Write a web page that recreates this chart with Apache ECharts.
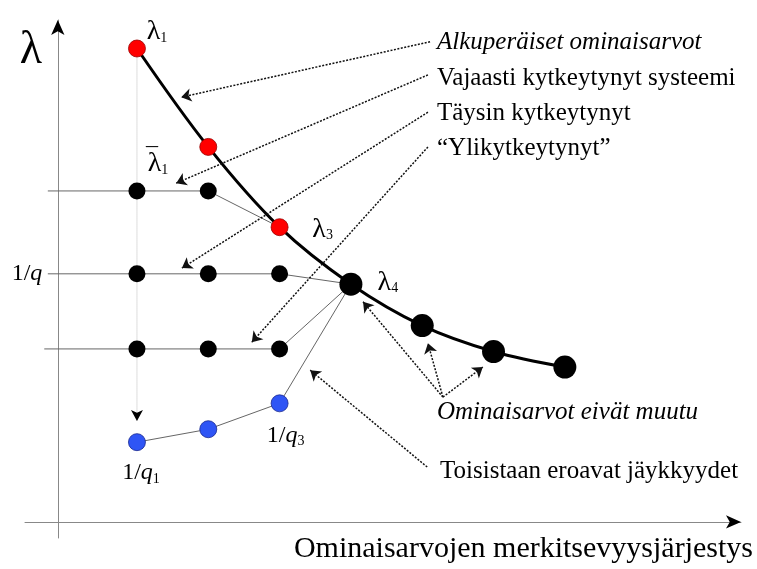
<!DOCTYPE html>
<html>
<head>
<meta charset="utf-8">
<script src="https://cdn.jsdelivr.net/npm/echarts@6/dist/echarts.min.js"></script>
<style>
  html, body { margin: 0; padding: 0; background: #fff; }
  #chart { width: 757px; height: 569px; }
</style>
</head>
<body>
<div id="chart"></div>
<script>
// eigenvalue order on x, level on y (arbitrary units 0..100)
var ranks = [1, 2, 3, 4, 5, 6, 7];
var original = [94.5, 75.5, 60, 49, 41, 36, 33]; // alkuperäiset ominaisarvot
var weakLevel = 67;    // vajaasti kytkeytynyt
var fullLevel = 51;    // täysin kytkeytynyt, 1/q
var overLevel = 36.5;  // ylikytkeytynyt
var stiffness = [18.5, 21, 26]; // 1/q1 .. 1/q3
var rowStarts = [-0.25, -0.25, -0.3];
var dropEnd = 22.6;
var xRange = [-0.57, 9.47];
var yRange = [0, 100];
var axisCross = [-0.11, 3.1]; // where the drawn axes sit

var captions = [
  'Alkuperäiset ominaisarvot',
  'Vajaasti kytkeytynyt systeemi',
  'Täysin kytkeytynyt',
  '\u201cYlikytkeytynyt\u201d',
  'Ominaisarvot eivät muutu',
  'Toisistaan eroavat jäykkyydet'
];
var xTitle = 'Ominaisarvojen merkitsevyysjärjestys';

// pointer arrows: [from, to]
var pointers = [
  [[5.11, 95.8], [1.62, 85.1]],
  [[5.08, 89.4], [1.55, 68.5]],
  [[5.08, 82.2], [1.63, 52.1]],
  [[5.08, 75.5], [2.61, 37.8]],
  [[5.29, 27.2], [4.17, 45.6]],
  [[5.29, 27.2], [5.08, 37.6]],
  [[5.29, 27.2], [5.85, 33.0]],
  [[5.07, 13.7], [3.43, 32.4]]
];

var serif = '"Liberation Serif", "DejaVu Serif", serif';

function pt(i, arr) { return [ranks[i], arr[i]]; }

function row(level, start, upto, target) {
  var d = [[start, level]];
  for (var i = 0; i < upto; i++) d.push([ranks[i], level]);
  d.push(pt(target, original));
  return d;
}

var rowLines = [
  row(weakLevel, rowStarts[0], 2, 2),
  row(fullLevel, rowStarts[1], 3, 3),
  row(overLevel, rowStarts[2], 3, 3)
];
var blueLine = stiffness.map(function (v, i) { return [ranks[i], v]; });
blueLine.push(pt(3, original));

var rowDots = [];
[weakLevel, fullLevel, overLevel].forEach(function (lv, r) {
  var n = r === 0 ? 2 : 3;
  for (var i = 0; i < n; i++) rowDots.push([ranks[i], lv]);
});

var rich = {
  l: { fontFamily: serif, fontSize: 28, color: '#000' },
  s: { fontFamily: serif, fontSize: 14, color: '#000', padding: [13, 0, 0, 0] },
  m: { fontFamily: serif, fontSize: 24, color: '#000' },
  n: { fontFamily: serif, fontSize: 24, color: '#000' },
  q: { fontFamily: serif, fontSize: 24, fontStyle: 'italic', color: '#000' }
};

function lbl(value, text, offset) {
  return {
    value: value,
    label: {
      show: true, position: 'inside', formatter: text, offset: offset, rich: rich,
      color: '#000', textBorderWidth: 0, opacity: 1
    }
  };
}

var labelItems = [
  lbl(pt(0, original), '{l|λ}{s|1}', [20, -17]),
  lbl([ranks[0], weakLevel], '{l|λ}{s|1}', [21, -27]),
  lbl([ranks[0], weakLevel], '{m|\u00af}', [15, -33]),
  lbl(pt(2, original), '{l|λ}{s|3}', [43, 2]),
  lbl(pt(3, original), '{l|λ}{s|4}', [37, -2]),
  lbl([ranks[0], fullLevel], '{n|1/}{q|q}', [-110, 0]),
  lbl([ranks[0], stiffness[0]], '{n|1/}{q|q}{s|1}', [4, 31]),
  lbl([ranks[2], stiffness[2]], '{n|1/}{q|q}{s|3}', [6, 32])
];

var captionPos = [
  { y: 42, italic: true },
  { y: 78 },
  { y: 113 },
  { y: 148 },
  { y: 412, italic: true },
  { y: 471, x: 440 }
];

var graphics = captions.map(function (t, i) {
  var p = captionPos[i];
  return {
    type: 'text', x: p.x || 437, y: p.y,
    style: {
      text: t, fill: '#000', fontFamily: serif, fontSize: 25,
      fontStyle: p.italic ? 'italic' : 'normal', verticalAlign: 'middle'
    }
  };
});
graphics.push({
  type: 'text', x: 753, y: 549,
  style: { text: xTitle, fill: '#000', fontFamily: serif, fontSize: 30, align: 'right', verticalAlign: 'middle' }
});
graphics.push({
  type: 'text', x: 31, y: 51,
  style: { text: 'λ', fill: '#000', fontFamily: serif, fontSize: 46, align: 'center', verticalAlign: 'middle' }
});

var series = [];
rowLines.forEach(function (d) {
  series.push({
    type: 'line', data: d, symbol: 'none', silent: true, z: 2,
    lineStyle: { color: '#666', width: 1 }
  });
});
series.push({
  type: 'line', data: blueLine, symbol: 'none', silent: true, z: 2,
  lineStyle: { color: '#666', width: 1 }
});
series.push({
  type: 'line', data: [pt(0, original), [ranks[0], dropEnd]], symbol: 'none', silent: true, z: 1,
  lineStyle: { color: '#bbb', width: 1, type: 'dotted' }
});
// black arrow heads: drop arrow, x axis tip, y axis tip
series.push({
  type: 'scatter', symbol: 'arrow', silent: true, z: 3, clip: false,
  itemStyle: { color: '#000', opacity: 1 },
  data: [
    { value: [ranks[0], dropEnd], symbolRotate: 180, symbolSize: [9, 11] },
    { value: [xRange[1], axisCross[1]], symbolRotate: -90, symbolSize: [10, 15] },
    { value: [axisCross[0], yRange[1]], symbolRotate: 0, symbolSize: [10, 15] }
  ]
});
series.push({
  type: 'line', data: ranks.map(function (r, i) { return [r, original[i]]; }),
  smooth: 0.35, symbol: 'none', silent: true, z: 3,
  lineStyle: { color: '#000', width: 3 }
});
series.push({
  type: 'lines', coordinateSystem: 'cartesian2d', silent: true, z: 4,
  symbol: ['none', 'arrow'], symbolSize: 10,
  lineStyle: { color: '#111', width: 1.5, type: [2, 1.5], opacity: 1 },
  data: pointers.map(function (p) { return { coords: p }; })
});
series.push({
  type: 'scatter', data: rowDots, symbolSize: 17, silent: true, z: 5,
  itemStyle: { color: '#000', opacity: 1 }
});
series.push({
  type: 'scatter', data: [0, 1, 2].map(function (i) { return pt(i, original); }),
  symbolSize: 17, silent: true, z: 5,
  itemStyle: { color: '#ff0000', borderColor: '#900', borderWidth: 0.8, opacity: 1 }
});
series.push({
  type: 'scatter', data: [3, 4, 5, 6].map(function (i) { return pt(i, original); }),
  symbolSize: 23, silent: true, z: 5,
  itemStyle: { color: '#000', opacity: 1 }
});
series.push({
  type: 'scatter', data: blueLine.slice(0, 3), symbolSize: 17, silent: true, z: 5,
  itemStyle: { color: '#2f55f5', borderColor: '#1a2a90', borderWidth: 0.8, opacity: 1 }
});
series.push({
  type: 'scatter', data: labelItems, symbolSize: 0, silent: true, z: 6,
  itemStyle: { color: '#000', opacity: 1 }
});

var axisLine = { onZero: false, lineStyle: { color: '#888', width: 1 } };

var chart = echarts.init(document.getElementById('chart'), null, { renderer: 'canvas' });
chart.setOption({
  animation: false,
  backgroundColor: '#fff',
  grid: { left: 25, right: 16, top: 20, bottom: 31 },
  xAxis: {
    type: 'value', min: xRange[0], max: xRange[1], offset: -16,
    axisLine: axisLine,
    axisTick: { show: false }, axisLabel: { show: false }, splitLine: { show: false }
  },
  yAxis: {
    type: 'value', min: yRange[0], max: yRange[1], offset: -33,
    axisLine: axisLine,
    axisTick: { show: false }, axisLabel: { show: false }, splitLine: { show: false }
  },
  graphic: graphics,
  series: series
});
</script>
</body>
</html>
